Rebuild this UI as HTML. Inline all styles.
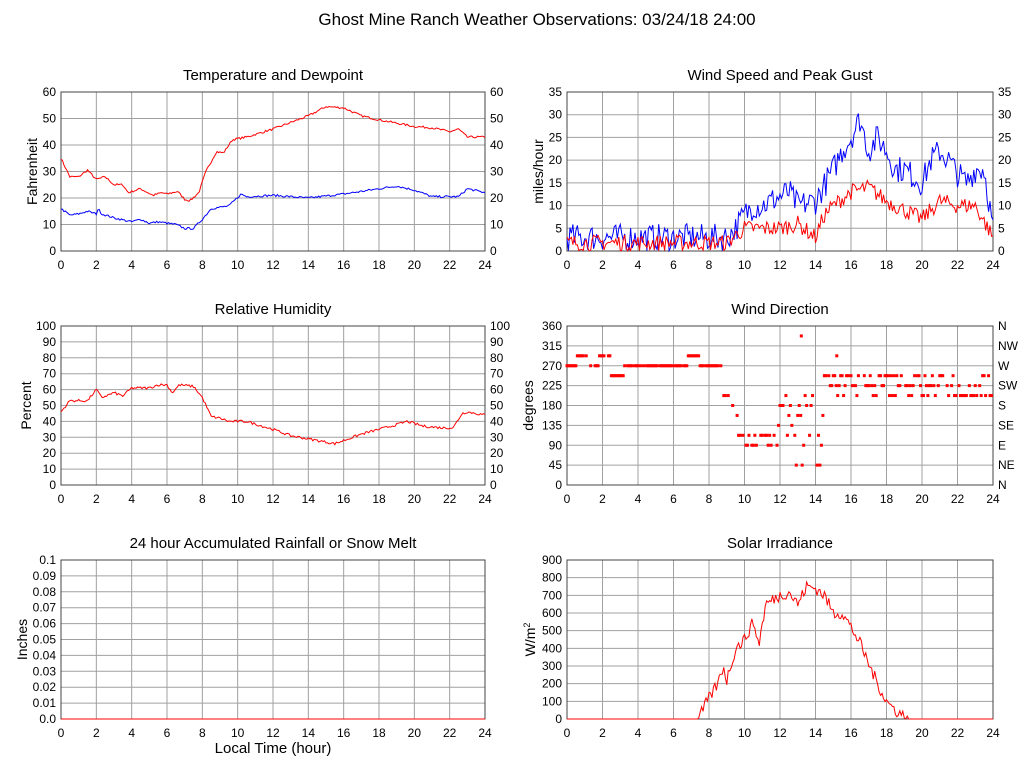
<!DOCTYPE html>
<html><head><meta charset="utf-8"><style>body{margin:0;background:#fff}svg{display:block;font-family:"Liberation Sans",sans-serif}</style></head>
<body><svg id="s" width="1027" height="772" xmlns="http://www.w3.org/2000/svg"></svg>
<script>
var S=document.getElementById('s'),out='';
var seed=7;function rnd(){seed=(seed*16807)%2147483647;return seed/2147483647;}
function interp(k,t){for(var i=0;i<k.length-1;i++){if(t<=k[i+1][0]){var a=k[i],b=k[i+1];return a[1]+(b[1]-a[1])*(t-a[0])/(b[0]-a[0]);}}return k[k.length-1][1];}
function series(k,n,noise,min){var r=[];for(var i=0;i<=n;i++){var t=24*i/n;var v=interp(k,t)+(rnd()-0.5)*2*noise;if(min!=null&&v<min)v=min;r.push([t,v]);}return r;}
function txt(x,y,s,sz,anc,extra){out+='<text x="'+x+'" y="'+y+'" font-size="'+sz+'" text-anchor="'+(anc||'middle')+'" '+(extra||'')+'>'+s+'</text>';}
function panel(p){var X0=p.x0,X1=p.x1,Y0=p.y0,Y1=p.y1,W=X1-X0,H=Y1-Y0;
 var sx=function(t){return X0+t/24*W},sy=function(v){return Y1-(v-p.min)/(p.max-p.min)*H};
 for(var h=2;h<24;h+=2)out+='<line x1="'+sx(h)+'" y1="'+Y0+'" x2="'+sx(h)+'" y2="'+Y1+'" stroke="#a0a0a0"/>';
 var nt=Math.round((p.max-p.min)/p.step);
 for(var i=0;i<=nt;i++){var v=p.min+i*p.step,y=sy(v);
  if(i>0&&i<nt)out+='<line x1="'+X0+'" y1="'+y+'" x2="'+X1+'" y2="'+y+'" stroke="#a0a0a0"/>';
  var lab=p.fmt?p.fmt(v):v;txt(X0-5,y+4,lab,12,'end');
  if(p.right)txt(X1+5,y+4,p.right===true?lab:p.right[i],12,'start');}
 for(var h=0;h<=24;h+=2)txt(sx(h),Y1+18,h,12,'middle');
 txt((X0+X1)/2,Y0-12,p.title,15);
 out+='<text x="0" y="0" font-size="14" text-anchor="middle" transform="translate('+p.lx+','+((Y0+Y1)/2)+') rotate(-90)">'+p.ylab+'</text>';
 out+='<rect x="'+X0+'" y="'+Y0+'" width="'+W+'" height="'+H+'" fill="none" stroke="#444"/>';
 (p.lines||[]).forEach(function(l){var d=l.d.map(function(q,i){return (i?'L':'M')+sx(q[0]).toFixed(1)+' '+sy(Math.max(p.min,Math.min(p.max,q[1]))).toFixed(1)}).join('');out+='<path d="'+d+'" fill="none" stroke="'+l.c+'" stroke-width="1"/>';});
 (p.dots||[]).forEach(function(q){out+='<rect x="'+(sx(q[0])-1.5)+'" y="'+(sy(q[1])-1.5)+'" width="3" height="3" fill="#f00"/>';});
}
var temp=series([[0,35],[.5,28],[1,28],[1.5,30.5],[2,27],[2.5,28],[3,25],[3.5,25],[3.8,22],[4.5,23.5],[5.2,21],[5.7,22],[6,21.5],[6.6,22.5],[7,19.5],[7.3,19],[7.8,22],[8.2,30],[8.8,37.5],[9.2,37],[9.7,42],[10.5,43],[12,46],[14,51],[15,54.5],[16,54],[17,51],[18,49.5],[20,47],[21,46.5],[22,45],[22.5,46],[23,43],[24,43]],288,0.4);
var dew=series([[0,16],[.5,13.5],[1,14],[1.5,15],[2,14],[2.1,16],[2.3,14],[3,12.5],[4,11],[4.5,12],[5,10.5],[5.5,11],[6,10.5],[6.5,10],[7,8.5],[7.5,8.5],[8,12],[8.5,16],[9.5,17],[10.2,21.5],[10.5,20.5],[12,21],[14,20],[16,21.5],[17,22.5],[19,24.5],[20,23],[21,20.5],[22.5,20.5],[23,23.5],[24,22]],288,0.4);
panel({x0:61,x1:485,y0:92,y1:251,min:0,max:60,step:10,right:true,title:'Temperature and Dewpoint',ylab:'Fahrenheit',lx:37,lines:[{d:temp,c:'#f00'},{d:dew,c:'#00f'}]});
var gust=series([[0,3],[9,3],[9.5,5],[10,8],[10.5,10],[11,10],[12.5,13],[13,10],[14,11],[15,18],[15.5,22],[16,25],[16.5,29],[17,22],[17.5,25],[18,22],[18.5,18],[19,18],[20,15],[20.5,20],[21,22],[21.5,20],[22,17],[22.5,15],[23,18],[23.5,18],[24,5]],288,3,0);
var avg=series([[0,1.8],[9,1.8],[10,5],[12,5],[13,6],[14,3],[14.5,8],[15,10],[16,13],[17,14],[18,11],[19,9],[20,7],[21,11],[22,10],[23,10],[24,3]],288,1.8,0);
panel({x0:567,x1:993,y0:92,y1:251,min:0,max:35,step:5,right:true,title:'Wind Speed and Peak Gust',ylab:'miles/hour',lx:543,lines:[{d:gust,c:'#00f'},{d:avg,c:'#f00'}]});
var rh=series([[0,46],[.5,53],[1.5,53],[2,60],[2.3,55],[3,58],[3.5,56],[4,61],[5,61],[5.5,63],[6,63],[6.3,58],[6.7,63],[7.5,62],[8,55],[8.5,43],[9,42],[9.5,40],[10.5,40],[12,35],[13,31],[14,29],[15,27],[15.5,26],[16,28],[17,32],[19,38],[19.6,40],[20.5,37],[21.5,36],[22.2,36],[22.7,45],[23,46],[24,44]],288,0.8);
panel({x0:61,x1:485,y0:326,y1:485,min:0,max:100,step:10,right:true,title:'Relative Humidity',ylab:'Percent',lx:31,lines:[{d:rh,c:'#f00'}]});
var dots=[];for(var i=0;i<288;i++){var t=i/12,v,r=rnd();
 if(t<2.5)v=(t>0.5&&t<1.2)||(t>1.8)?292.5:270;else if(t<3.2)v=247.5;else if(t<6.8)v=270;else if(t<7.5)v=292.5;else if(t<8.7)v=270;else if(t<9.2)v=202.5;else if(t<9.6)v=r<.5?180:157.5;
 else if(t<12)v=r<.5?90:(r<.9?112.5:135);else if(t<14.5)v=[45,90,112.5,135,157.5,180,202.5][Math.floor(r*7)];else if(t<15.2)v=r<.5?225:247.5;
 else v=r<.35?202.5:(r<.75?225:247.5);if(rnd()<0.82)dots.push([t,v]);}
dots.push([13.2,337.5]);dots.push([15.2,292.5]);
panel({x0:567,x1:993,y0:326,y1:485,min:0,max:360,step:45,right:['N','NE','E','SE','S','SW','W','NW','N'],title:'Wind Direction',ylab:'degrees',lx:533,dots:dots});
panel({x0:61,x1:485,y0:560,y1:719,min:0,max:0.1,step:0.01,fmt:function(v){return Math.round(v*100)/100===0?'0.0':(Math.round(v*100)/100).toString()},title:'24 hour Accumulated Rainfall or Snow Melt',ylab:'Inches',lx:27,lines:[{d:[[0,0],[24,0]],c:'#f00'}]});
var sol=series([[0,0],[7.4,0],[7.9,100],[8.5,200],[8.8,300],[9,220],[9.5,400],[10,450],[10.5,550],[10.8,420],[11.2,650],[12,700],[12.5,720],[13,650],[13.5,750],[14,740],[14.5,700],[15,600],[15.5,600],[16,520],[16.5,430],[17,310],[17.5,200],[18,100],[18.5,50],[19,15],[19.4,0],[24,0]],288,35,0);
sol=sol.map(function(q){return [q[0],(q[0]<7.3||q[0]>19.3)?0:q[1]]});
panel({x0:567,x1:993,y0:560,y1:719,min:0,max:900,step:100,title:'Solar Irradiance',ylab:'W/m<tspan dy="-5" font-size="9">2</tspan>',lx:535,lines:[{d:sol,c:'#f00'}]});
txt(273,753,'Local Time (hour)',15);
txt(537,25,'Ghost Mine Ranch Weather Observations: 03/24/18 24:00',17);
S.innerHTML=out;
</script></body></html>
